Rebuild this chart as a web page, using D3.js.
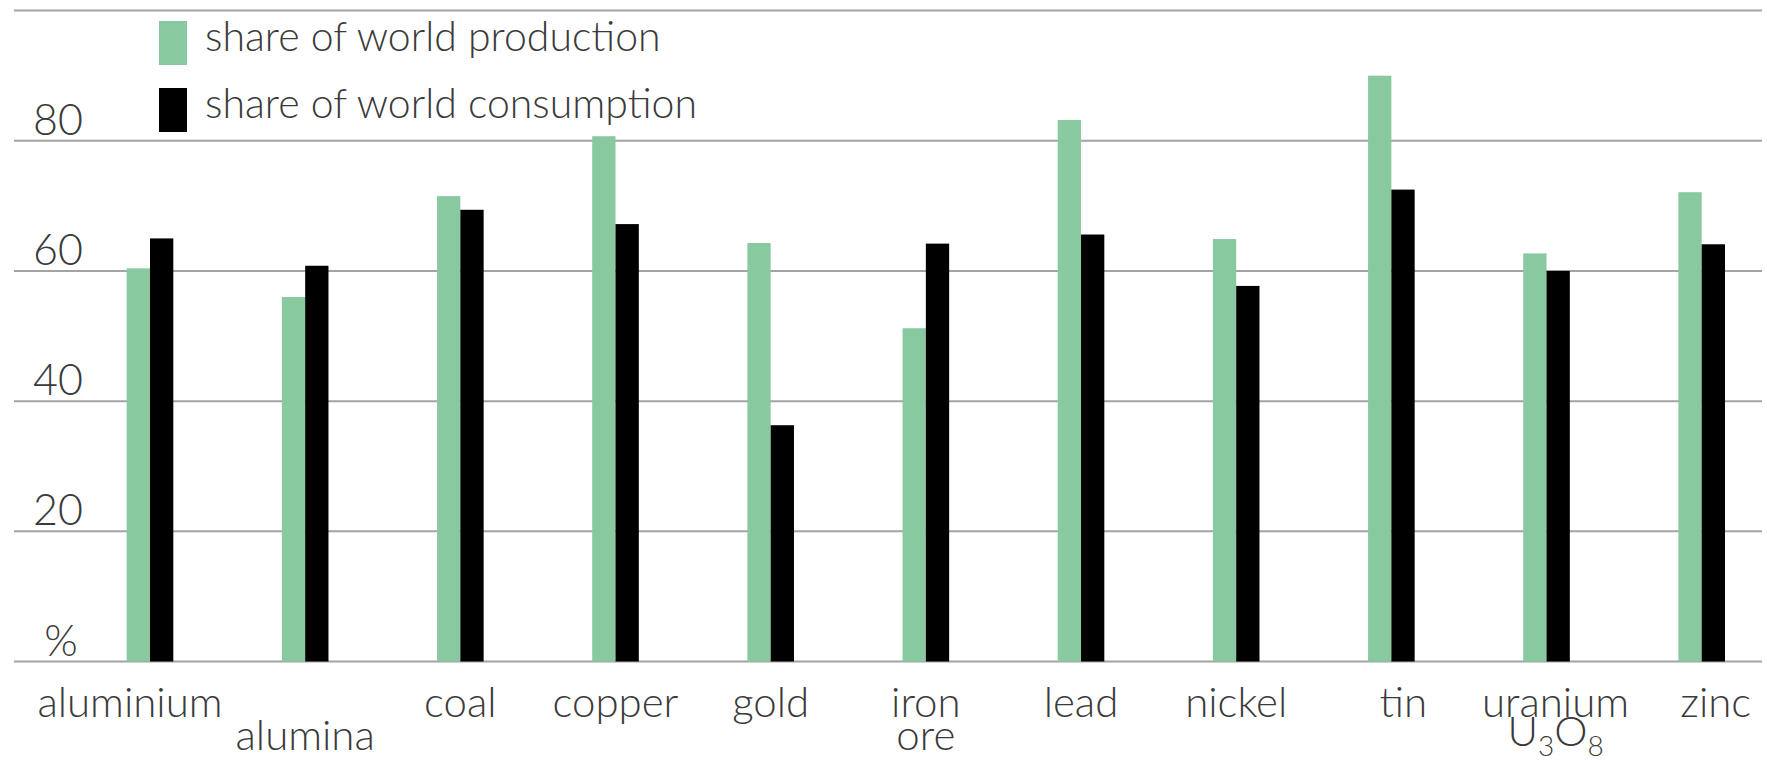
<!DOCTYPE html>
<html>
<head>
<meta charset="utf-8">
<script src="https://cdn.jsdelivr.net/npm/d3@7"></script>
<style>
  body { margin: 0; background: #fff; }
  svg text { font-family: Lato, "Open Sans", sans-serif; font-weight: 300; fill: #3a3a3a; }
</style>
</head>
<body>
<div id="chart"></div>
<script>
// categories and values (percent)
var categories = ["aluminium", "alumina", "coal", "copper", "gold", "iron ore", "lead", "nickel", "tin", "uranium", "zinc"];
var production = [60.4, 56.0, 71.5, 80.7, 64.3, 51.2, 83.2, 64.9, 90.0, 62.7, 72.1];
var consumption = [65.0, 60.8, 69.4, 67.2, 36.3, 64.2, 65.6, 57.7, 72.5, 60.0, 64.1];
var yTicks = [0, 20, 40, 60, 80, 100];
var seriesNames = ["share of world production", "share of world consumption"];

var width = 1767, height = 765;
var green = "#89c9a0", black = "#000";

var svg = d3.select("#chart").append("svg")
  .attr("width", width)
  .attr("height", height);

var x = d3.scalePoint()
  .domain(categories)
  .range([150, 1701.7]);

var y = d3.scaleLinear()
  .domain([0, 100])
  .range([661.5, 10.6]);

var barW = 23.3;

// gridlines
svg.append("g")
  .selectAll("line")
  .data(yTicks)
  .enter().append("line")
    .attr("x1", 14)
    .attr("x2", 1762)
    .attr("y1", function(d) { return y(d); })
    .attr("y2", function(d) { return y(d); })
    .attr("stroke", "#a3a3a3")
    .attr("stroke-width", 2);

// y labels (0 shows as %)
svg.append("g")
  .selectAll("text")
  .data(yTicks.filter(function(d) { return d < 100; }))
  .enter().append("text")
    .attr("x", function(d) { return d == 0 ? 61 : 58; })
    .attr("y", function(d) { return y(d) - 6; })
    .attr("text-anchor", "middle")
    .attr("font-size", 43)
    .text(function(d) { return d == 0 ? "%" : d; });

// bars
var data = categories.map(function(c, i) { return {cat: c, prod: production[i], cons: consumption[i]}; });

svg.append("g").selectAll("rect")
  .data(data)
  .enter().append("rect")
    .attr("x", function(d) { return x(d.cat) - barW; })
    .attr("y", function(d) { return y(d.prod); })
    .attr("width", barW)
    .attr("height", function(d) { return y(0) - y(d.prod); })
    .attr("fill", green);

svg.append("g").selectAll("rect")
  .data(data)
  .enter().append("rect")
    .attr("x", function(d) { return x(d.cat); })
    .attr("y", function(d) { return y(d.cons); })
    .attr("width", barW)
    .attr("height", function(d) { return y(0) - y(d.cons); })
    .attr("fill", black);

// category labels
var labelShift = {"aluminium": -20, "tin": 12, "uranium": 9, "zinc": 14};
var row1 = 717, row2 = 750;

var labels = svg.append("g")
  .attr("font-size", 42)
  .attr("text-anchor", "middle");

categories.forEach(function(c) {
  var cx = x(c) + (labelShift[c] || 0);
  if (c == "alumina") {
    labels.append("text").attr("x", cx).attr("y", row2).text(c);
  } else if (c == "iron ore") {
    // two lines in one text element
    var t1 = labels.append("text").attr("x", cx).attr("y", row1);
    t1.append("tspan").attr("x", cx).text("iron");
    t1.append("tspan").attr("x", cx).attr("dy", row2 - row1).text("ore");
  } else if (c == "uranium") {
    var t = labels.append("text").attr("x", cx).attr("y", row1);
    t.append("tspan").attr("x", cx).text("uranium");
    var l2 = t.append("tspan").attr("x", cx).attr("dy", row2 - row1 - 4);
    l2.append("tspan").text("U");
    l2.append("tspan").attr("font-size", 28).attr("dy", 10).text("3");
    l2.append("tspan").attr("dy", -10).text("O");
    l2.append("tspan").attr("font-size", 28).attr("dy", 10).text("8");
  } else {
    labels.append("text").attr("x", cx).attr("y", row1).text(c);
  }
});

// legend
var legend = svg.append("g")
  .selectAll("g")
  .data(seriesNames)
  .enter().append("g")
    .attr("transform", function(d, i) { return "translate(159," + (21 + i * 67) + ")"; });

legend.append("rect")
  .attr("width", 28)
  .attr("height", 44)
  .attr("fill", function(d, i) { return i == 0 ? green : black; });

legend.append("text")
  .attr("x", 46)
  .attr("y", 30)
  .attr("font-size", 41)
  .text(function(d) { return d; });
</script>
</body>
</html>
